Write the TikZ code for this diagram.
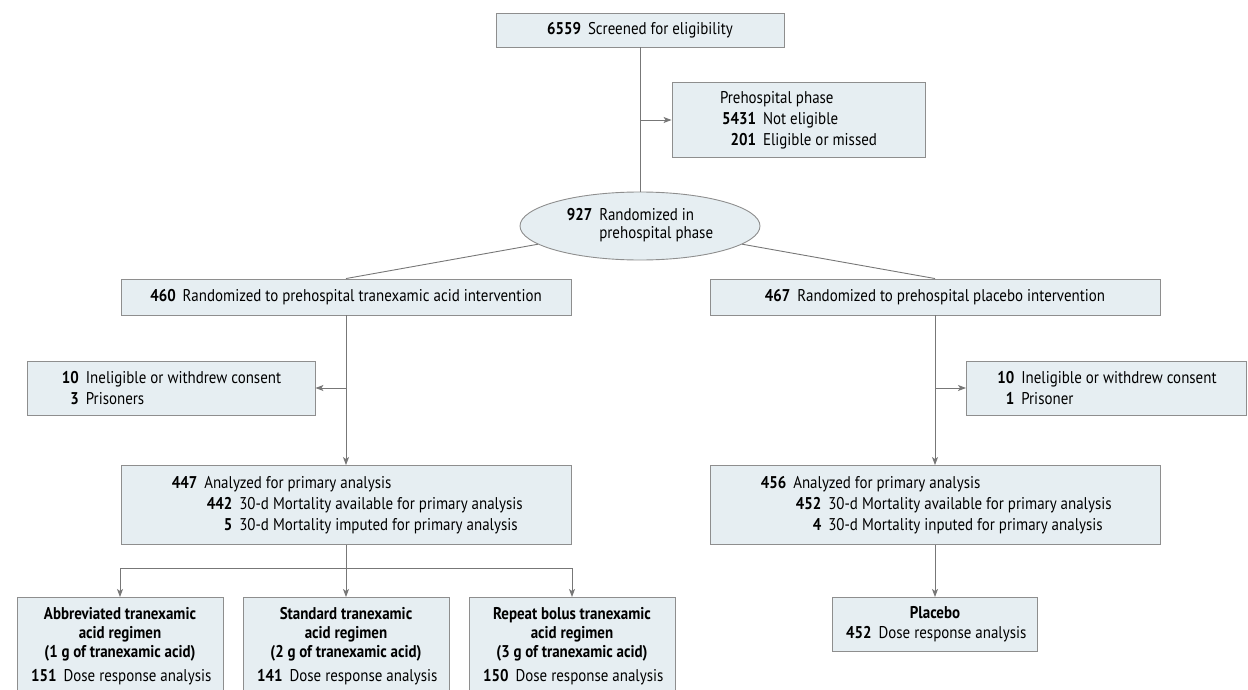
\documentclass[tikz,border=0pt]{standalone}
\usepackage{fontspec}
\setmainfont[FakeStretch=0.88]{PT Sans}
\usetikzlibrary{shapes.geometric,arrows.meta}
\definecolor{boxfill}{HTML}{E6EEF2}
\definecolor{boxline}{HTML}{8E8E8E}
\definecolor{flowline}{HTML}{777777}
\newcommand{\cnt}[2][28pt]{\makebox[#1][r]{\bfseries #2}\hspace{7pt}}
\begin{document}
\begin{tikzpicture}[x=1pt,y=-1pt,
  box/.style={draw=boxline,fill=boxfill,line width=0.9pt,inner sep=0pt,font=\fontsize{17}{21}\selectfont},
  flow/.style={draw=flowline,line width=0.9pt},
  arr/.style={flow,-{Stealth[length=8pt,width=6pt,inset=2pt]}}]
\useasboundingbox (0,0) rectangle (1248,690);
\node[box,minimum width=288,minimum height=34] (screen) at (640,30) {\textbf{6559}\hspace{7pt}Screened for eligibility};
\node[box,minimum width=253,minimum height=75,align=left] (pre) at (798.5,120)
  {Prehospital phase\\ \cnt[36pt]{5431}Not eligible\\ \cnt[36pt]{201}Eligible or missed};
\node[box,ellipse,minimum width=240,minimum height=68,font=\fontsize{17}{18}\selectfont] (rand) at (640,226)
  {\begin{tabular}{@{}l@{\hspace{7pt}}l@{}}\textbf{927} & Randomized in\\ & prehospital phase\end{tabular}};

\node[box,minimum width=450,minimum height=36] (txa) at (346,297) {\textbf{460}\hspace{7pt}Randomized to prehospital tranexamic acid intervention};
\node[box,minimum width=450,minimum height=36] (plc) at (935,297) {\textbf{467}\hspace{7pt}Randomized to prehospital placebo intervention};

\node[box,minimum width=288,minimum height=54,align=left] (exa) at (171,388)
  {\cnt[18pt]{10}Ineligible or withdrew consent\\ \cnt[18pt]{3}Prisoners};
\node[box,minimum width=280,minimum height=54,align=left,anchor=west] (exb) at (966,388)
  {\cnt[18pt]{10}Ineligible or withdrew consent\\ \cnt[18pt]{1}Prisoner};

\node[box,minimum width=450,minimum height=79,align=left] (ana) at (346,505)
  {\cnt{447}Analyzed for primary analysis\\
   \hspace{35pt}\cnt{442}30-d Mortality available for primary analysis\\
   \hspace{35pt}\cnt{5}30-d Mortality imputed for primary analysis};
\node[box,minimum width=450,minimum height=79,align=left] (anb) at (935,505)
  {\cnt{456}Analyzed for primary analysis\\
   \hspace{35pt}\cnt{452}30-d Mortality available for primary analysis\\
   \hspace{35pt}\cnt{4}30-d Mortality inputed for primary analysis};

\node[box,minimum width=206,minimum height=98,anchor=north,align=center,font=\fontsize{17}{19}\selectfont] (g1) at (120,597)
  {\textbf{Abbreviated tranexamic}\\ \textbf{acid regimen}\\ \textbf{(1 g of tranexamic acid)}\\[5pt] \cnt{151}Dose response analysis};
\node[box,minimum width=206,minimum height=98,anchor=north,align=center,font=\fontsize{17}{19}\selectfont] (g2) at (346,597)
  {\textbf{Standard tranexamic}\\ \textbf{acid regimen}\\ \textbf{(2 g of tranexamic acid)}\\[5pt] \cnt{141}Dose response analysis};
\node[box,minimum width=206,minimum height=98,anchor=north,align=center,font=\fontsize{17}{19}\selectfont] (g3) at (572,597)
  {\textbf{Repeat bolus tranexamic}\\ \textbf{acid regimen}\\ \textbf{(3 g of tranexamic acid)}\\[5pt] \cnt{150}Dose response analysis};
\node[box,minimum width=205,minimum height=54,anchor=north,align=center,font=\fontsize{17}{20}\selectfont] (pl) at (935,597)
  {\textbf{Placebo}\\ \cnt{452}Dose response analysis};

\draw[flow] (screen) -- (rand);
\coordinate (j1) at (screen.south |- pre.west);
\draw[arr] (j1) -- (pre.west);
\draw[flow] (rand) -- (txa.north);
\draw[flow] (rand) -- (plc.north);
\draw[arr] (txa) -- (ana);
\draw[arr] (plc) -- (anb);
\coordinate (j2) at (txa.south |- exa.east);
\draw[arr] (j2) -- (exa.east);
\coordinate (j3) at (plc.south |- exb.west);
\draw[arr] (j3) -- (exb.west);
\coordinate (br) at (346,568);
\draw[flow] (ana) -- (br);
\draw[arr] (br) -| (g1.north);
\draw[arr] (br) -| (g3.north);
\draw[arr] (br) -- (g2.north);
\draw[arr] (anb) -- (pl);
\end{tikzpicture}
\end{document}
